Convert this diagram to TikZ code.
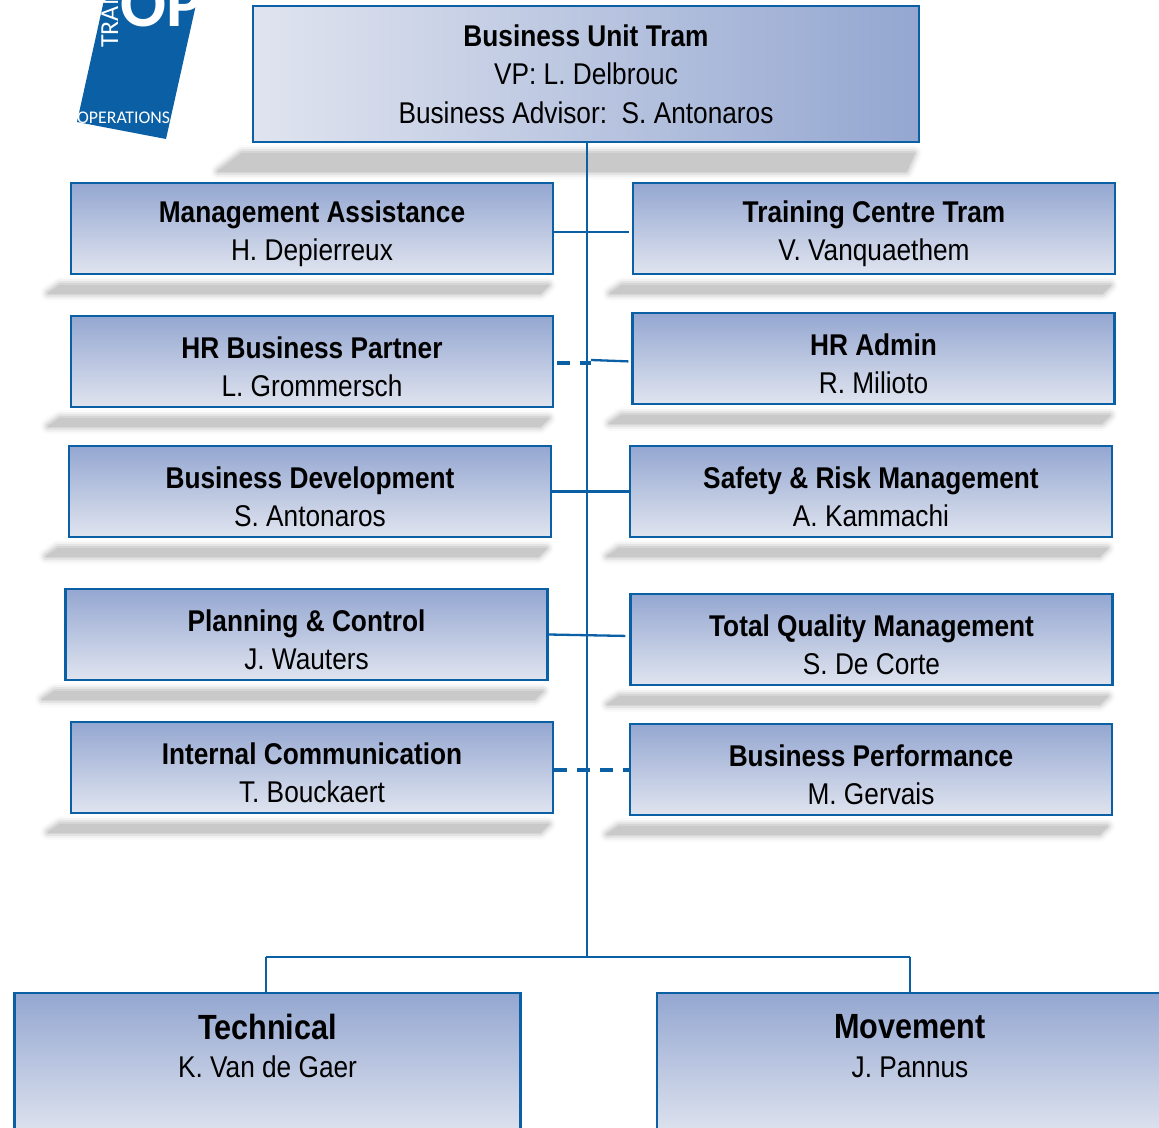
\documentclass[tikz,border=0pt]{standalone}
\usepackage{fontspec}
\setmainfont{Liberation Sans}[FakeStretch=0.875]
\newfontfamily\logofont{Carlito}
\usetikzlibrary{calc,backgrounds}
\definecolor{tramblue}{HTML}{0B5FA5}
\definecolor{shadetop}{HTML}{94A7D1}
\definecolor{shadelow}{HTML}{E0E4EF}
\definecolor{shadowgrey}{HTML}{C9C9C9}
\tikzset{
  orgbox/.style={draw=tramblue, line width=2.3pt, top color=shadetop, bottom color=shadelow, align=center, inner sep=0pt, font=\fontsize{30}{38.5}\selectfont},
  staffbox/.style={orgbox, minimum width=482pt, minimum height=91pt},
  headbox/.style={orgbox, left color=shadelow, right color=shadetop, minimum width=666pt, minimum height=136pt},
  linebox/.style={orgbox, minimum width=506pt, minimum height=144pt, anchor=north},
  solidlink/.style={draw=tramblue, line width=2.3pt},
  dashlink/.style={draw=tramblue, line width=4pt, dash pattern=on 13pt off 10pt}
}
\newcommand{\boxtitle}[1]{\rule{0pt}{32pt}\textbf{#1}}
\newcommand{\boxshadow}[2]{%
  \foreach \lw/\tone in {16/8,12/25,8/50,4/78,0/100} {
    \draw [line width=\lw pt, line join=round, draw=shadowgrey!\tone, fill=shadowgrey!\tone]
      ($(#1.south west)+(-10,10)$) -- ($(#1.south east)+(-6,10)$)
      -- ($(#1.south east)+(-14,#2)$) -- ($(#1.south west)+(-1.2*#2,#2)$) -- cycle;
  }%
}
\begin{document}
\begin{tikzpicture}[x=1pt,y=-1pt]

\useasboundingbox (0,0) rectangle (1159,1127);
\clip (0,0) rectangle (1159,1127);

% logo
\fill [tramblue] (77,122) -- (166,139) -- (197,0) -- (104,0) -- cycle;
\node [text=white, font=\logofont\bfseries\fontsize{68}{68}\selectfont, anchor=base west, inner sep=0pt] (logoop) at (120,27) {OP};
\node [text=white, font=\logofont\fontsize{26}{26}\selectfont, rotate=90, anchor=base west, inner sep=0pt] (logotram) at (118,48) {TRAM};
\node [text=white, font=\logofont\fontsize{17.8}{17.8}\selectfont, anchor=base west, inner sep=0pt] (logoops) at (77,123) {OPERATIONS};

% boxes
\node [headbox] (unit) at (586,74) {\textbf{Business Unit Tram}\\VP: L. Delbrouc\\Business Advisor:~~S. Antonaros};
\node [staffbox] (mgmt) at (312,228.5) {\boxtitle{Management Assistance}\\H. Depierreux};
\node [staffbox] (train) at (874,228.5) {\boxtitle{Training Centre Tram}\\V. Vanquaethem};
\node [staffbox] (hrbp) at (312,361.5) {\boxtitle{HR Business Partner}\\L. Grommersch};
\node [staffbox] (hradm) at (873.5,358.5) {\boxtitle{HR Admin}\\R. Milioto};
\node [staffbox] (bdev) at (310,491.5) {\boxtitle{Business Development}\\S. Antonaros};
\node [staffbox] (safety) at (871,491.5) {\boxtitle{Safety \& Risk Management}\\A. Kammachi};
\node [staffbox] (plan) at (306.5,634.5) {\boxtitle{Planning \& Control}\\J. Wauters};
\node [staffbox] (tqm) at (871.5,639.5) {\boxtitle{Total Quality Management}\\S. De Corte};
\node [staffbox] (comm) at (312,767.5) {\boxtitle{Internal Communication}\\T. Bouckaert};
\node [staffbox] (perf) at (871,769.5) {\boxtitle{Business Performance}\\M. Gervais};
\node [linebox] (tech) at (267.5,992) {\fontsize{35}{42}\selectfont\textbf{Technical}\\K. Van de Gaer\\~};
\node [linebox] (move) at (910,992) {\fontsize{35}{42}\selectfont\textbf{Movement}\\J. Pannus\\~};

% shadows
\begin{pgfonlayer}{background}
\foreach \n in {mgmt,train,hrbp,hradm,bdev,safety,plan,tqm,comm,perf} {
  \boxshadow{\n}{18}
}
\boxshadow{unit}{28}
\end{pgfonlayer}

% links
\coordinate (spine) at (587,957);
\coordinate (hrturn) at (591,360);
\coordinate (hrdash) at (591,363);
\coordinate (techup) at (266,957);
\coordinate (moveup) at (910,957);
\draw [solidlink] (unit.south -| spine) -- (spine);
\draw [solidlink, shorten >=3pt] ($(mgmt.east)+(0,3.5)$) -- ($(train.west)+(0,3.5)$);
\draw [dashlink, shorten <=3pt] (hrbp.east |- hrdash) -- (hrdash);
\draw [solidlink, shorten >=3pt] (hrturn) -- ($(hradm.west)+(0,3)$);
\draw [solidlink] (bdev.east) -- (safety.west);
\draw [solidlink, shorten >=4pt] (plan.east) -- ($(tqm.west)+(0,-3.5)$);
\draw [dashlink] (comm.east |- perf.west) -- (perf.west);
\draw [solidlink] (techup) -- (moveup);
\draw [solidlink] (tech.north -| techup) -- (techup);
\draw [solidlink] (move.north -| moveup) -- (moveup);

\end{tikzpicture}
\end{document}
